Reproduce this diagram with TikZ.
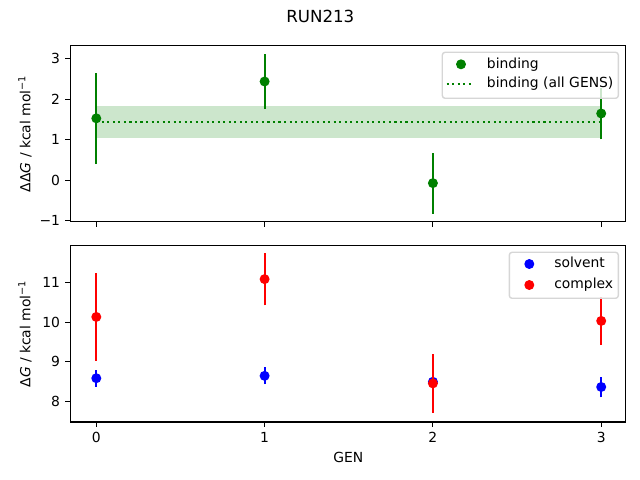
\documentclass[tikz,border=0pt]{standalone}
\usepackage{fontspec}
\setmainfont{DejaVu Sans}
\usepackage{xcolor}
\usepackage{tikz}
\usetikzlibrary{calc}
\definecolor{gbind}{HTML}{008000}
\definecolor{bsolv}{HTML}{0000FF}
\definecolor{rcplx}{HTML}{FF0000}
\definecolor{legedge}{HTML}{D6D6D6}
\tikzset{
  spine/.style={draw=black, line width=0.8pt, line join=miter},
  tick/.style={draw=black, line width=0.8pt},
  ebar/.style={line width=1.5pt},
  dotted15/.style={line width=1.5pt, dash pattern=on 1.5pt off 2.475pt},
  dot/.style={circle, inner sep=0pt, minimum size=7.2pt},
  lab/.style={text=black, font=\fontsize{10}{12}\selectfont, inner sep=0pt},
  legbox/.style={draw=legedge, line width=1pt, fill=white, fill opacity=0.8, rounded corners=2pt},
}

\begin{document}
\begin{tikzpicture}[x=0.72pt, y=-0.72pt]
  \useasboundingbox (0,0) rectangle (640,480);
  \node[lab, anchor=north, font=\fontsize{12}{14}\selectfont] (title) at (320.3,10) {RUN213};

  % top panel: binding free energy
  \begin{scope}[shift={(96.3,180.3)}, x=121.18pt, y=29.16pt]
    \fill[gbind, fill opacity=0.2] (0,1.05) rectangle (3,1.83);
    \draw[gbind, dotted15] (0,1.44) -- (3,1.44);
    \foreach \g/\v/\e in {0/1.53/1.13, 1/2.44/0.68, 2/-0.07/0.75, 3/1.65/0.64} {
      \draw[gbind, ebar] (\g,\v-\e) -- (\g,\v+\e);
      \node[dot, fill=gbind] (b\g) at (\g,\v) {};
    }
    \draw[spine] (-0.1545,-1.022) rectangle (3.145,3.323);
    \foreach \t/\l in {-1/−1, 0/0, 1/1, 2/2, 3/3}
      \draw[tick] (-0.1545,\t) -- ++(-3.5pt,0) node[lab, anchor=east, xshift=-3.5pt] {\l};
    \foreach \g in {0,...,3}
      \draw[tick] (\g,-1.022) -- ++(0,-3.5pt);
  \end{scope}
  \node[lab, rotate=90] (ylabtop) at (25,133.7) {ΔΔ\textit{G} / kcal mol\textsuperscript{−1}};

  % legend top
  \draw[legbox] (442.3,52.3) rectangle (618.3,98.3);
  \node[dot, fill=gbind] (legb) at (461,64.3) {};
  \node[lab, anchor=mid west] (legbtxt) at (486.7,64.3) {binding};
  \coordinate (lgl) at (446.7,84);
  \coordinate (lgr) at (474.3,84);
  \draw[gbind, dotted15] (lgl) -- (lgr);
  \node[lab, anchor=mid west] (legatxt) at (486.7,84) {binding (all GENS)};

  % bottom panel: solvent and complex legs
  \begin{scope}[shift={(96.3,720.1)}, x=121.18pt, y=28.656pt]
    \foreach \g/\v/\e in {0/8.59/0.21, 1/8.65/0.21, 2/8.50/0.20, 3/8.37/0.26} {
      \draw[bsolv, ebar] (\g,\v-\e) -- (\g,\v+\e);
      \node[dot, fill=bsolv] (s\g) at (\g,\v) {};
    }
    \foreach \g/\v/\e in {0/10.13/1.10, 1/11.08/0.66, 2/8.46/0.74, 3/10.03/0.60} {
      \draw[rcplx, ebar] (\g,\v-\e) -- (\g,\v+\e);
      \node[dot, fill=rcplx] (c\g) at (\g,\v) {};
    }
    \draw[spine] (-0.1545,7.49) rectangle (3.145,11.92);
    \foreach \t in {8,...,11}
      \draw[tick] (-0.1545,\t) -- ++(-3.5pt,0) node[lab, anchor=east, xshift=-3.5pt] {\t};
    \foreach \g in {0,...,3}
      \draw[tick] (\g,7.49) -- ++(0,-3.5pt) node[lab, anchor=north, yshift=-3.5pt] {\g};
  \end{scope}
  \node[lab, rotate=90] (ylabbot) at (25,333.9) {Δ\textit{G} / kcal mol\textsuperscript{−1}};
  \node[lab, anchor=north] (xlab) at (348.3,451.7) {GEN};

  % legend bottom
  \draw[legbox] (509.3,252.3) rectangle (618.3,298.3);
  \node[dot, fill=bsolv] (legs) at (529.3,264) {};
  \node[lab, anchor=mid west] (legstxt) at (554,264) {solvent};
  \node[dot, fill=rcplx] (legc) at (529.3,285) {};
  \node[lab, anchor=mid west] (legctxt) at (554,285) {complex};
\end{tikzpicture}
\end{document}
